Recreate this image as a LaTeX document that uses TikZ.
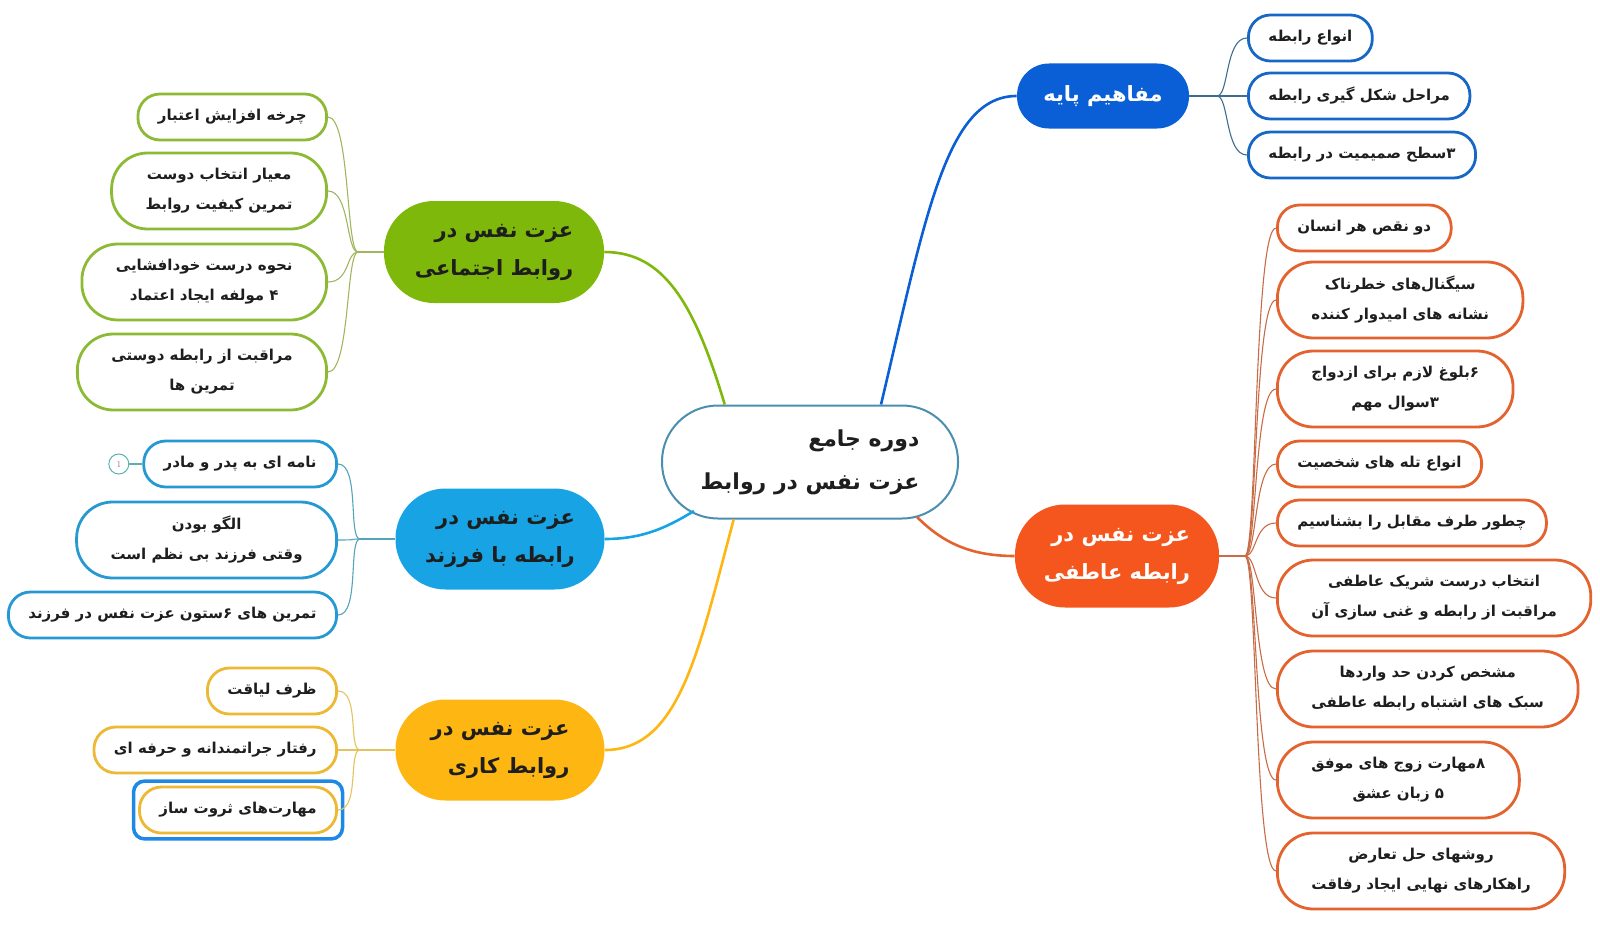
\documentclass[tikz,border=0pt]{standalone}
\usepackage{fontspec}
\usepackage{xcolor}
\usetikzlibrary{positioning}
\newfontfamily\farsi[Script=Arabic]{DejaVu Sans}
\TeXXeTstate=1
\newcommand{\fa}[1]{\beginR #1\endR}

\definecolor{hubline}{HTML}{4A8FB0}
\definecolor{ink}{HTML}{1E1E1E}
\definecolor{pblue}{HTML}{0B5FD6}
\definecolor{pbluebox}{HTML}{1767C6}
\definecolor{pbluetwig}{HTML}{3E6E8E}
\definecolor{porange}{HTML}{F4561D}
\definecolor{porangebox}{HTML}{E3622D}
\definecolor{porangetwig}{HTML}{C86B47}
\definecolor{pgreen}{HTML}{7DB80B}
\definecolor{pgreenbox}{HTML}{8DBA35}
\definecolor{pgreentwig}{HTML}{A2B560}
\definecolor{pcyan}{HTML}{18A4E4}
\definecolor{pcyanbox}{HTML}{2699D3}
\definecolor{pcyantwig}{HTML}{55A5B8}
\definecolor{pamber}{HTML}{FDB612}
\definecolor{pamberbox}{HTML}{EDB834}
\definecolor{pambertwig}{HTML}{E2C45E}
\definecolor{tagteal}{HTML}{5AAFB2}
\definecolor{selblue}{HTML}{1E88E5}

\begin{document}
\begin{tikzpicture}[x=1pt,y=-1pt,thick,
  hub node/.style={rectangle,draw=hubline,line width=2pt,fill=white,rounded corners=56pt,
    minimum width=296pt,minimum height=113pt,align=right,text=ink,
    font=\farsi\bfseries\fontsize{22}{43}\selectfont},
  main node/.style={rectangle,fill=#1,rounded corners=50pt,minimum width=209pt,
    minimum height=101pt,align=right,text=ink,inner sep=0pt,
    font=\farsi\bfseries\fontsize{21}{38}\selectfont},
  leaf/.style={rectangle,draw=#1,line width=2.8pt,fill=white,rounded corners=22pt,
    minimum height=46pt,inner xsep=20pt,inner ysep=0pt,align=center,text=ink,
    font=\farsi\bfseries\fontsize{15}{30}\selectfont},
  two lines/.style={rounded corners=36pt,minimum height=76pt,inner xsep=34pt},
  tag/.style={circle,draw=tagteal,line width=1pt,minimum size=20pt,inner sep=0pt,
    text=gray,font=\fontsize{9}{9}\selectfont},
  stem/.style={line width=2.6pt},
  twig/.style={line width=1.1pt},
  twig right/.style={to path={.. controls +(12,0) and +(-22,0) .. (\tikztotarget)}},
  twig left/.style={to path={.. controls +(-12,0) and +(22,0) .. (\tikztotarget)}}]

\useasboundingbox (0,0) rectangle (1600,942);

\node[hub node] (cen) at (810,462) {\fa{دوره جامع}\\\fa{عزت نفس در روابط}};

\node[main node=pblue,text=white,minimum width=172pt,minimum height=65pt,rounded corners=32pt] (mp) at (1103,96) {\fa{مفاهیم پایه}};
\node[main node=porange,text=white,minimum width=204pt,minimum height=103pt] (ra) at (1117,556) {\fa{عزت نفس در}\\\fa{رابطه عاطفی}};
\node[main node=pgreen,minimum width=220pt,minimum height=102pt] (ej) at (494,252) {\fa{عزت نفس در}\\\fa{روابط اجتماعی}};
\node[main node=pcyan] (fz) at (500,539) {\fa{عزت نفس در}\\\fa{رابطه با فرزند}};
\node[main node=pamber] (kr) at (500,750) {\fa{عزت نفس در}\\\fa{روابط کاری}};

\draw[stem,pblue] (cen.39) .. controls +(45,-190) and +(-70,0) .. (mp.west);
\draw[stem,porangebox] ([shift={(107,55)}]cen.center) .. controls +(25,25) and +(-45,0) .. (ra.west);
\draw[stem,pgreen] (cen.146) .. controls +(-30,-100) and +(60,0) .. (ej.east);
\draw[stem,pcyan] ([shift={(-116,49)}]cen.center) .. controls +(-25,15) and +(40,0) .. (fz.east);
\draw[stem,pamber] (cen.217) .. controls +(-35,130) and +(75,0) .. (kr.east);

\coordinate (jb) at (1217,96);
\coordinate (jo) at (1245,556);
\coordinate (jg) at (358,252);
\coordinate (jc) at (360,539);
\coordinate (ja) at (360,750);

% right side
\node[leaf=pbluebox,anchor=west] (b1) at (1247,38) {\fa{انواع رابطه}};
\node[leaf=pbluebox,anchor=west] (b2) at (1247,96) {\fa{مراحل شکل گیری رابطه}};
\node[leaf=pbluebox,anchor=west] (b3) at (1247,155) {\fa{۳سطح صمیمیت در رابطه}};

\node[leaf=porangebox,anchor=west] (o1) at (1276,228) {\fa{دو نقص هر انسان}};
\node[leaf=porangebox,two lines,anchor=west] (o2) at (1276,300) {\fa{سیگنال‌های خطرناک}\\\fa{نشانه های امیدوار کننده}};
\node[leaf=porangebox,two lines,anchor=west] (o3) at (1276,389) {\fa{۶بلوغ لازم برای ازدواج}\\\fa{۳سوال مهم}};
\node[leaf=porangebox,anchor=west] (o4) at (1276,464) {\fa{انواع تله های شخصیت}};
\node[leaf=porangebox,anchor=west] (o5) at (1276,523) {\fa{چطور طرف مقابل را بشناسیم}};
\node[leaf=porangebox,two lines,anchor=west] (o6) at (1276,598) {\fa{انتخاب درست شریک عاطفی}\\\fa{مراقبت از رابطه و غنی سازی آن}};
\node[leaf=porangebox,two lines,anchor=west] (o7) at (1276,689) {\fa{مشخص کردن حد واردها}\\\fa{سبک های اشتباه رابطه عاطفی}};
\node[leaf=porangebox,two lines,anchor=west] (o8) at (1276,780) {\fa{۸مهارت زوج های موفق}\\\fa{۵ زبان عشق}};
\node[leaf=porangebox,two lines,anchor=west] (o9) at (1276,871) {\fa{روشهای حل تعارض}\\\fa{راهکارهای نهایی ایجاد رفاقت}};

% left side
\node[leaf=pgreenbox,anchor=east] (g1) at (328,117) {\fa{چرخه افزایش اعتبار}};
\node[leaf=pgreenbox,two lines,anchor=east] (g2) at (328,191) {\fa{معیار انتخاب دوست}\\\fa{تمرین کیفیت روابط}};
\node[leaf=pgreenbox,two lines,anchor=east] (g3) at (328,282) {\fa{نحوه درست خودافشایی}\\\fa{۴ مولفه ایجاد اعتماد}};
\node[leaf=pgreenbox,two lines,anchor=east] (g4) at (328,372) {\fa{مراقبت از رابطه دوستی}\\\fa{تمرین ها}};

\node[leaf=pcyanbox,anchor=east] (c1) at (338,464) {\fa{نامه ای به پدر و مادر}};
\node[leaf=pcyanbox,two lines,anchor=east] (c2) at (338,540) {\fa{الگو بودن}\\\fa{وقتی فرزند بی نظم است}};
\node[leaf=pcyanbox,anchor=east] (c3) at (338,615) {\fa{تمرین های ۶ستون عزت نفس در فرزند}};
\node[tag,left=13pt of c1] (t1) {1};

\node[leaf=pamberbox,anchor=east] (a1) at (338,691) {\fa{ظرف لیاقت}};
\node[leaf=pamberbox,anchor=east] (a2) at (338,750) {\fa{رفتار جراتمندانه و حرفه ای}};
\node[leaf=pamberbox,anchor=east] (a3) at (338,810) {\fa{مهارت‌های ثروت ساز}};
\draw[selblue,line width=3.5pt,rounded corners=11pt]
  ([xshift=-4.5pt,yshift=4.5pt]a3.north west) rectangle ([xshift=4.5pt,yshift=-4.5pt]a3.south east);

% twigs
\draw[twig,pbluetwig] (mp.east) -- (jb);
\path[twig,pbluetwig]
  (jb) edge[twig right] (b1.west)
  (jb) edge[twig right] (b2.west)
  (jb) edge[twig right] (b3.west);

\draw[twig,porangetwig] (ra.east) -- (jo);
\path[twig,porangetwig]
  (jo) edge[twig right] (o1.west)
  (jo) edge[twig right] (o2.west)
  (jo) edge[twig right] (o3.west)
  (jo) edge[twig right] (o4.west)
  (jo) edge[twig right] (o5.west)
  (jo) edge[twig right] (o6.west)
  (jo) edge[twig right] (o7.west)
  (jo) edge[twig right] (o8.west)
  (jo) edge[twig right] (o9.west);

\draw[twig,pgreentwig] (ej.west) -- (jg);
\path[twig,pgreentwig]
  (jg) edge[twig left] (g1.east)
  (jg) edge[twig left] (g2.east)
  (jg) edge[twig left] (g3.east)
  (jg) edge[twig left] (g4.east);

\draw[twig,pcyantwig] (fz.west) -- (jc);
\path[twig,pcyantwig]
  (jc) edge[twig left] (c1.east)
  (jc) edge[twig left] (c2.east)
  (jc) edge[twig left] (c3.east);
\draw[twig,tagteal] (t1) -- (c1);

\draw[twig,pambertwig] (kr.west) -- (ja);
\path[twig,pambertwig]
  (ja) edge[twig left] (a1.east)
  (ja) edge[twig left] (a2.east)
  (ja) edge[twig left] (a3.east);
\end{tikzpicture}
\end{document}
